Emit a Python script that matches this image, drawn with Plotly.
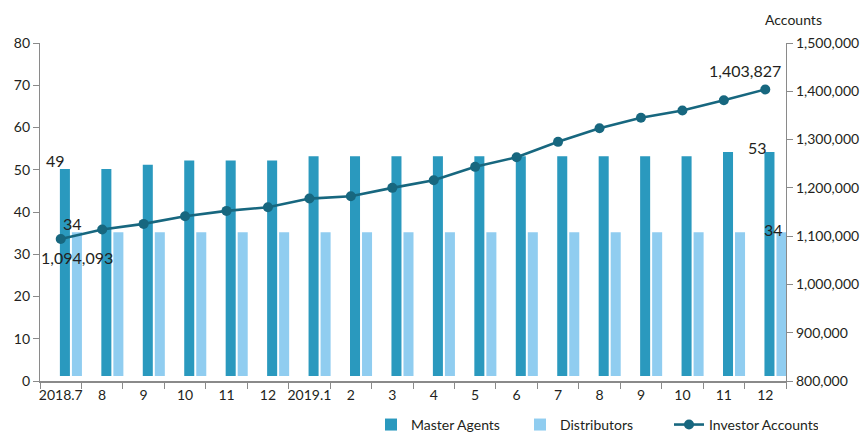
import plotly.graph_objects as go

# Monthly periods (unique keys) and the tick labels shown under them
periods = ["2018-07", "2018-08", "2018-09", "2018-10", "2018-11", "2018-12",
           "2019-01", "2019-02", "2019-03", "2019-04", "2019-05", "2019-06",
           "2019-07", "2019-08", "2019-09", "2019-10", "2019-11", "2019-12"]
tick_labels = ["2018.7", "8", "9", "10", "11", "12",
               "2019.1", "2", "3", "4", "5", "6",
               "7", "8", "9", "10", "11", "12"]

master_agents = [49, 49, 50, 51, 51, 51, 52, 52, 52, 52, 52, 52, 52, 52, 52, 52, 53, 53]
distributors = [34, 34, 34, 34, 34, 34, 34, 34, 34, 34, 34, 34, 34, 34, 34, 34, 34, 34]
investor_accounts = [1094093, 1113600, 1125400, 1141100, 1152300, 1159800,
                     1177800, 1182600, 1200000, 1215800, 1243500, 1263400,
                     1295300, 1323300, 1345100, 1360200, 1381600, 1403827]

DARK = "#2a99be"
LIGHT = "#90cdf0"
LINE = "#17677f"
TEXT = "#231f20"
AXIS = "#8a8a8a"
FONT = "Lato"

bar_base = 1.2      # bars float slightly above the baseline
bar_w = 0.242

fig = go.Figure()
fig.add_trace(go.Bar(
    x=periods, y=master_agents, base=bar_base, name="Master Agents",
    marker=dict(color=DARK, line=dict(width=0)), width=bar_w, offset=-0.02,
))
fig.add_trace(go.Bar(
    x=periods, y=distributors, base=bar_base, name="Distributors",
    marker=dict(color=LIGHT, line=dict(width=0)), width=bar_w, offset=0.27,
))
fig.add_trace(go.Scatter(
    x=periods, y=investor_accounts, name="Investor Accounts", yaxis="y2",
    mode="lines+markers", line=dict(color=LINE, width=2.6),
    marker=dict(color=LINE, size=10),
))

label_font = dict(family=FONT, size=16, color=TEXT)
annotations = [
    dict(x=periods[0], y=master_agents[0] + bar_base, xref="x", yref="y",
         text=str(master_agents[0]), showarrow=False, font=label_font,
         xshift=-5, yshift=8),
    dict(x=periods[0], y=distributors[0] + bar_base, xref="x", yref="y",
         text=str(distributors[0]), showarrow=False, font=label_font,
         xshift=12, yshift=9),
    dict(x=periods[0], y=investor_accounts[0], xref="x", yref="y2",
         text=f"{investor_accounts[0]:,}", showarrow=False, font=label_font,
         xshift=16, yshift=-18),
    dict(x=periods[-1], y=investor_accounts[-1], xref="x", yref="y2",
         text=f"{investor_accounts[-1]:,}", showarrow=False, font=label_font,
         xshift=-20, yshift=19),
    dict(x=periods[-1], y=master_agents[-1] + bar_base, xref="x", yref="y",
         text=str(master_agents[-1]), showarrow=False, font=label_font,
         xshift=-8, yshift=5),
    dict(x=periods[-1], y=distributors[-1] + bar_base, xref="x", yref="y",
         text=str(distributors[-1]), showarrow=False, font=label_font,
         xshift=8, yshift=3),
    dict(x=1.0107, y=1.071, xref="paper", yref="paper", text="Accounts",
         showarrow=False, font=dict(family=FONT, size=14, color=TEXT),
         xanchor="center", yanchor="middle"),
]

fig.update_layout(
    width=867, height=437,
    margin=dict(l=40, r=81, t=43, b=56, autoexpand=False),
    paper_bgcolor="white", plot_bgcolor="white",
    font=dict(family=FONT, size=14, color=TEXT),
    barmode="overlay",
    showlegend=True,
    legend=dict(orientation="h", x=0.4437, xanchor="left", y=-0.13,
                yanchor="middle", font=dict(family=FONT, size=14, color=TEXT),
                itemwidth=30, entrywidth=104, entrywidthmode="pixels",
                bgcolor="rgba(0,0,0,0)"),
    xaxis=dict(
        type="category", tickmode="array", tickvals=periods, ticktext=tick_labels,
        tickangle=0, automargin=False,
        tickson="boundaries", ticks="outside", ticklen=6, tickcolor=AXIS,
        showline=True, linecolor=AXIS, linewidth=2, showgrid=False,
        zeroline=False, range=[-0.5, len(periods) - 0.5],
    ),
    yaxis=dict(
        range=[0, 80], dtick=10, ticks="outside", ticklen=6, tickcolor=AXIS,
        showline=True, linecolor=AXIS, linewidth=1.3, showgrid=False,
        zeroline=False, automargin=False,
    ),
    yaxis2=dict(
        range=[800000, 1500000], dtick=100000, tickformat=",d", overlaying="y",
        side="right", ticks="outside", ticklen=6, tickcolor=AXIS,
        showline=True, linecolor=AXIS, linewidth=1.3, showgrid=False,
        zeroline=False, automargin=False,
    ),
    annotations=annotations,
)

fig.write_html("out.html")
